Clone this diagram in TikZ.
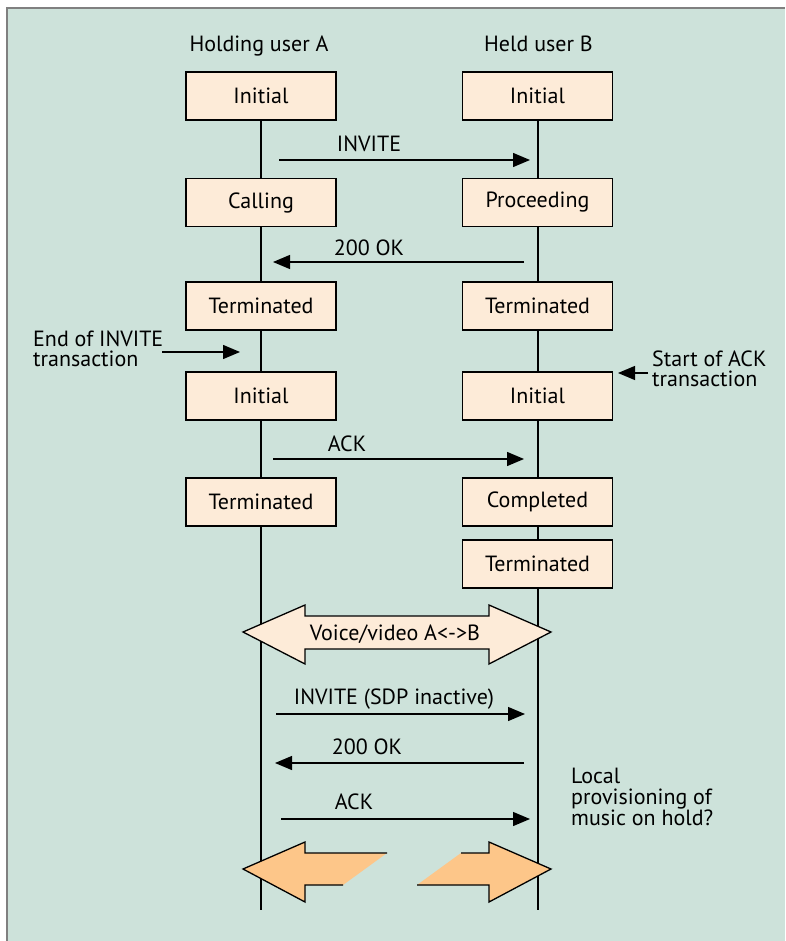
\documentclass[tikz,border=0pt]{standalone}
\usepackage{fontspec}
\setmainfont{PT Sans}
\usetikzlibrary{arrows.meta}
\definecolor{bgmint}{RGB}{205,226,218}
\definecolor{statefill}{RGB}{253,235,216}
\definecolor{holdorange}{RGB}{253,198,137}
\definecolor{framegray}{RGB}{128,128,128}
\begin{document}
\begin{tikzpicture}[x=1pt,y=-1pt,
  font=\fontsize{22}{24}\selectfont,
  state/.style={draw=black, fill=statefill, line width=1.3pt,
    minimum width=150pt, minimum height=48pt, inner sep=0pt},
  msg/.style={line width=1.3pt, -{Triangle[length=17pt,width=14pt]}},
  lifeline/.style={line width=1.3pt},
  lbl/.style={inner sep=0pt, anchor=base},
  note/.style={inner sep=0pt, anchor=base west, align=left},
  bigarrow/.style={draw=black, line width=1.3pt, line join=miter}]
\useasboundingbox (0,0) rectangle (785,941);
% frame and background
\fill[white] (0,0) rectangle (785,941);
\fill[bgmint] (7,8) rectangle (785,941);
\draw[framegray, line width=2pt] (7,941) -- (7,8) -- (785,8);

% lifelines
\coordinate (Atop) at (261,96);
\coordinate (Abot) at (261,910);
\coordinate (Btop) at (538,96);
\coordinate (Bbot) at (538,910);
\draw[lifeline] (Atop) -- (Abot);
\draw[lifeline] (Btop) -- (Bbot);

% column headings
\node[lbl] (headA) at (259,52) {Holding user A};
\node[lbl] (headB) at (538.5,52) {Held user B};

% transaction states of A
\node[state] (a1) at (261,96) {Initial};
\node[state] (a2) at (261,202.5) {Calling};
\node[state] (a3) at (261,306) {Terminated};
\node[state] (a4) at (261,396) {Initial};
\node[state] (a5) at (261,502) {Terminated};

% transaction states of B
\node[state] (b1) at (537.5,96) {Initial};
\node[state] (b2) at (537.5,202.5) {Proceeding};
\node[state] (b3) at (537.5,306) {Terminated};
\node[state] (b4) at (537.5,396) {Initial};
\node[state] (b5) at (537.5,502) {Completed};
\node[state] (b6) at (537.5,564) {Terminated};

% message end points
\coordinate (m1s) at (279,160);   \coordinate (m1e) at (530,160);
\coordinate (m2s) at (524,262);   \coordinate (m2e) at (273,262);
\coordinate (m3s) at (273,459);   \coordinate (m3e) at (524,459);
\coordinate (m4s) at (276,714);   \coordinate (m4e) at (525,714);
\coordinate (m5s) at (524,763);   \coordinate (m5e) at (275,763);
\coordinate (m6s) at (281,819);   \coordinate (m6e) at (530,819);

\draw[msg] (m1s) -- (m1e);
\draw[msg] (m2s) -- (m2e);
\draw[msg] (m3s) -- (m3e);
\draw[msg] (m4s) -- (m4e);
\draw[msg] (m5s) -- (m5e);
\draw[msg] (m6s) -- (m6e);

\node[lbl] (l1) at (369,152) {INVITE};
\node[lbl] (l2) at (369,255) {200 OK};
\node[lbl] (l3) at (347,451) {ACK};
\node[lbl] (l4) at (394,704) {INVITE (SDP inactive)};
\node[lbl] (l5) at (367,754) {200 OK};
\node[lbl] (l6) at (354,809) {ACK};

% side notes (anchored at the baseline of their last line)
\node[note] (endinv) at (33,366.7) {End of INVITE\\[-4pt]transaction};
\coordinate (endinvA) at (162,352);
\coordinate (endinvB) at (240,352);
\draw[msg] (endinvA) -- (endinvB);

\node[note] (startack) at (652,386.7) {Start of ACK\\[-4pt]transaction};
\coordinate (startackA) at (648,373);
\coordinate (startackB) at (618,373);
\draw[msg] (startackA) -- (startackB);

\node[note] (music) at (571,825) {Local\\[-3pt]provisioning of\\[-3pt]music on hold?};

% media stream A<->B
\filldraw[bigarrow, fill=statefill]
  (243,632) -- (305,605) -- (305,616) -- (489,616) -- (489,605) -- (551,632)
  -- (489,664) -- (489,649) -- (305,649) -- (305,664) -- cycle;
\node[lbl] (media) at (395,640) {Voice/video A<{}->B};

% media on hold, both directions cut
\fill[holdorange] (387,853) -- (305,853) -- (305,842) -- (243,869) -- (305,902)
  -- (305,885) -- (343,885) -- cycle;
\draw[bigarrow] (387,853) -- (305,853) -- (305,842) -- (243,869) -- (305,902)
  -- (305,885) -- (343,885);
\fill[holdorange] (461,853) -- (489,853) -- (489,842) -- (551,869) -- (489,902)
  -- (489,885) -- (417,885) -- cycle;
\draw[bigarrow] (461,853) -- (489,853) -- (489,842) -- (551,869) -- (489,902)
  -- (489,885) -- (417,885);
\end{tikzpicture}
\end{document}
